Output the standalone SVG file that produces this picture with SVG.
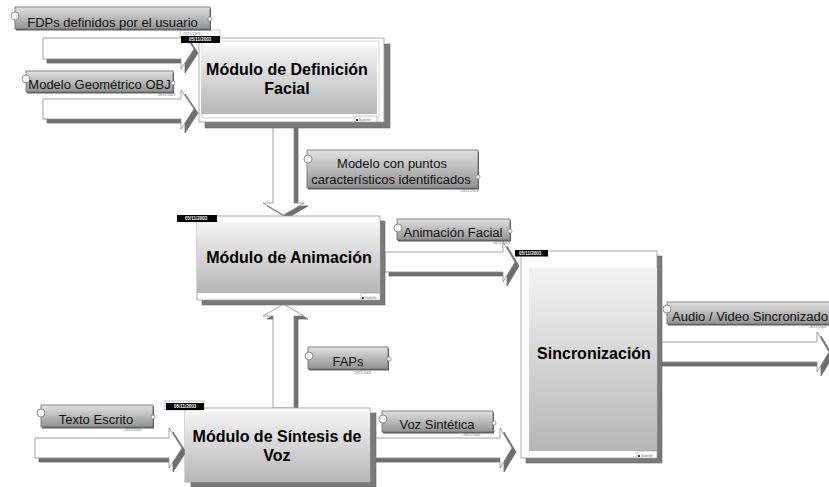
<svg xmlns="http://www.w3.org/2000/svg" width="829" height="487" viewBox="0 0 829 487">
<defs>
<linearGradient id="gMod" x1="0" y1="0" x2="0" y2="1">
<stop offset="0" stop-color="#f4f4f4"/>
<stop offset="1" stop-color="#b6b6b6"/>
</linearGradient>
<linearGradient id="gLab" x1="0" y1="0" x2="0" y2="1">
<stop offset="0" stop-color="#e2e2e2"/>
<stop offset="1" stop-color="#929292"/>
</linearGradient>
<style>
.arr{fill:#ffffff;stroke:#8a8a8a;stroke-width:0.8;stroke-linejoin:miter}
.arrs{fill:#6e6e6e;stroke:#6e6e6e;stroke-width:0.8}
.ext{fill:#7a7a7a;stroke:#6a6a6a;stroke-width:0.6}
.frame{fill:#ffffff;stroke:#9a9a9a;stroke-width:0.8}
.grad{fill:url(#gMod)}
.tab{fill:#000000}
.tabo{fill:#ffffff;stroke:#a0a0a0;stroke-width:0.6}
.tabt{font-family:"Liberation Sans",Arial,sans-serif;font-size:4.5px;font-weight:bold;fill:#ffffff}
.mod{font-family:"Liberation Sans",Arial,sans-serif;font-size:16px;font-weight:bold;fill:#000000;text-anchor:middle}
.lab{fill:url(#gLab);stroke:#6c6c6c;stroke-width:0.8}
.labs{fill:#5a5a5a}
.lt{font-family:"Liberation Sans",Arial,sans-serif;font-size:13px;fill:#111111;text-anchor:middle}
.cl{fill:#f4f4f4;stroke:#7a7a7a;stroke-width:0.8}
.cs{fill:#ffffff;stroke:#7a7a7a;stroke-width:0.7}
.tiny{font-family:"Liberation Sans",Arial,sans-serif;font-size:3.5px;fill:#777777}
.sub{fill:#ffffff;stroke:#888888;stroke-width:0.5}
</style>
</defs>
<rect width="829" height="487" fill="#ffffff"/>

<g id="connectors">
<g>
<polygon class="arrs" transform="translate(4,4)" points="43,38 181,38 181,29 194,49 181,69 181,59 43,59"/>
<polygon class="arr" points="43,38 181,38 181,29 194,49 181,69 181,59 43,59"/>
</g>
<g>
<polygon class="arrs" transform="translate(4,4)" points="43,99 181,99 181,90 194,109 181,129 181,119 43,119"/>
<polygon class="arr" points="43,99 181,99 181,90 194,109 181,129 181,119 43,119"/>
</g>
<g>
<polygon class="arrs" transform="translate(4,3)" points="273,122 294,122 294,203 304,203 283.5,215 263,203 273,203"/>
<polygon class="arr" points="273,122 294,122 294,203 304,203 283.5,215 263,203 273,203"/>
</g>
<g>
<polygon class="arrs" transform="translate(4,3)" points="273,408 294,408 294,316 304,316 283.5,304 263,316 273,316"/>
<polygon class="arr" points="273,408 294,408 294,316 304,316 283.5,304 263,316 273,316"/>
</g>
<g>
<polygon class="arrs" transform="translate(4,4)" points="35,438 169,438 169,428 182,448 169,468 169,458 35,458"/>
<polygon class="arr" points="35,438 169,438 169,428 182,448 169,468 169,458 35,458"/>
</g>
<g>
<polygon class="arrs" transform="translate(4,4)" points="385,252 503,252 503,242 515,262 503,282 503,272 385,272"/>
<polygon class="arr" points="385,252 503,252 503,242 515,262 503,282 503,272 385,272"/>
</g>
<g>
<polygon class="arrs" transform="translate(4,4)" points="370,438 500,438 500,428 512,448 500,468 500,458 370,458"/>
<polygon class="arr" points="370,438 500,438 500,428 512,448 500,468 500,458 370,458"/>
</g>
<g>
<polygon class="arrs" transform="translate(4,4)" points="657,342 817,342 817,332 829,352 817,372 817,362 657,362"/>
<polygon class="arr" points="657,342 817,342 817,332 829,352 817,372 817,362 657,362"/>
</g>
</g>

<g id="mod-definicion">
<rect class="ext" x="205" y="44" width="185" height="84"/>
<rect class="frame" x="199" y="38" width="185" height="84"/>
<rect class="frame" x="202" y="41" width="177" height="77" style="stroke:#c8c8c8"/>
<rect class="grad" x="201" y="46" width="176" height="68"/>
<rect class="tabo" x="180" y="30" width="40" height="7"/>
<text class="tiny" x="183" y="34.5">28/11/2003</text>
<rect class="tab" x="181" y="36" width="39" height="7"/>
<text class="tabt" x="189" y="41.2">05/11/2003</text>
<text class="mod" x="287" y="75">Módulo de Definición</text>
<text class="mod" x="287" y="94">Facial</text>
<rect class="sub" x="355" y="116" width="22" height="6"/>
<circle cx="357" cy="120" r="1" fill="#000"/>
<text class="tiny" x="359" y="121">Subtitle</text>
</g>

<g id="mod-animacion">
<rect class="ext" x="202" y="221" width="183" height="84"/>
<rect class="frame" x="197" y="216" width="183" height="84"/>
<rect class="grad" x="197" y="222" width="183" height="71"/>
<rect class="tab" x="177" y="215" width="40" height="7"/>
<text class="tabt" x="185" y="220.2">05/11/2003</text>
<text class="mod" x="289" y="263">Módulo de Animación</text>
<rect class="sub" x="361" y="293" width="19" height="7"/>
<circle cx="363" cy="298" r="1" fill="#000"/>
<text class="tiny" x="365" y="298.5">Subtitle</text>
</g>

<g id="mod-sintesis">
<rect class="ext" x="191" y="413" width="185" height="74"/>
<rect class="frame" x="185" y="408" width="185" height="74"/>
<rect class="grad" x="185" y="412" width="185" height="70"/>
<rect class="tabo" x="165" y="401" width="39" height="9"/>
<rect class="tab" x="166" y="403" width="38" height="7"/>
<text class="tabt" x="174" y="408.2">05/11/2003</text>
<text class="mod" x="277" y="442">Módulo de Síntesis de</text>
<text class="mod" x="277" y="461">Voz</text>
</g>

<g id="mod-sincronizacion">
<rect class="ext" x="526" y="256" width="136" height="207"/>
<rect class="frame" x="521" y="251" width="136" height="207"/>
<rect class="grad" x="529" y="268" width="128" height="183"/>
<rect class="tab" x="515" y="250" width="33" height="6.5"/>
<text class="tabt" x="519" y="255">05/11/2003</text>
<text class="mod" x="594" y="359">Sincronización</text>
<rect class="sub" x="637" y="451" width="20" height="7"/>
<circle cx="639" cy="456" r="1" fill="#000"/>
<text class="tiny" x="641" y="456.5">Subtitle</text>
</g>

<g id="lab-fdps">
<rect class="labs" x="16" y="8.5" width="195" height="22"/>
<rect class="lab" x="15" y="7" width="195" height="22"/>
<circle class="cl" cx="15" cy="16" r="4"/>
<circle class="cs" cx="210" cy="19" r="2"/>
<text class="lt" x="112.5" y="26.5">FDPs definidos por el usuario</text>
</g>

<g id="lab-obj">
<rect class="labs" x="27" y="72.5" width="147" height="21"/>
<rect class="lab" x="26" y="71" width="147" height="21"/>
<circle class="cl" cx="26" cy="79" r="4"/>
<circle class="cs" cx="173" cy="83" r="2"/>
<text class="lt" x="99.5" y="89">Modelo Geométrico OBJ</text>
<text class="tiny" x="158" y="96">28/11/2003</text>
</g>

<g id="lab-puntos">
<rect class="labs" x="308" y="151.5" width="171" height="38"/>
<rect class="lab" x="307" y="150" width="171" height="38"/>
<circle class="cl" cx="308" cy="159" r="4"/>
<circle class="cs" cx="478" cy="177" r="2"/>
<text class="lt" x="392" y="168">Modelo con puntos</text>
<text class="lt" x="391" y="183.5">característicos identificados</text>
<text class="tiny" x="461" y="192">28/11/2003</text>
</g>

<g id="lab-animfacial">
<rect class="labs" x="398" y="220.5" width="113" height="21"/>
<rect class="lab" x="397" y="219" width="113" height="21"/>
<circle class="cl" cx="398" cy="228" r="4"/>
<circle class="cs" cx="510" cy="231" r="2"/>
<text class="lt" x="453" y="237">Animación Facial</text>
<text class="tiny" x="493" y="244">28/11/2003</text>
</g>

<g id="lab-audiovideo">
<rect class="labs" x="668" y="303.5" width="166" height="22"/>
<rect class="lab" x="667" y="302" width="166" height="22"/>
<circle class="cl" cx="667" cy="309" r="4"/>
<text class="lt" x="750" y="321">Audio / Video Sincronizado</text>
<text class="tiny" x="809" y="328">28/11/2003</text>
</g>

<g id="lab-faps">
<rect class="labs" x="309" y="348.5" width="80" height="22"/>
<rect class="lab" x="308" y="347" width="80" height="22"/>
<circle class="cl" cx="309" cy="356" r="4"/>
<circle class="cs" cx="389" cy="359" r="2"/>
<text class="lt" x="348" y="366">FAPs</text>
<text class="tiny" x="354" y="374">28/11/2003</text>
</g>

<g id="lab-texto">
<rect class="labs" x="42" y="406.5" width="112" height="22"/>
<rect class="lab" x="41" y="405" width="112" height="22"/>
<circle class="cl" cx="41" cy="413" r="4"/>
<circle class="cs" cx="153" cy="417" r="2"/>
<text class="lt" x="96" y="424">Texto Escrito</text>
<text class="tiny" x="124" y="431">28/11/2003</text>
</g>

<g id="lab-voz">
<rect class="labs" x="383" y="412.5" width="111" height="21"/>
<rect class="lab" x="382" y="411" width="111" height="21"/>
<circle class="cl" cx="383" cy="419" r="4"/>
<circle class="cs" cx="494" cy="423" r="2"/>
<text class="lt" x="437" y="429">Voz Sintética</text>
<text class="tiny" x="463" y="436">28/11/2003</text>
</g>
</svg>
